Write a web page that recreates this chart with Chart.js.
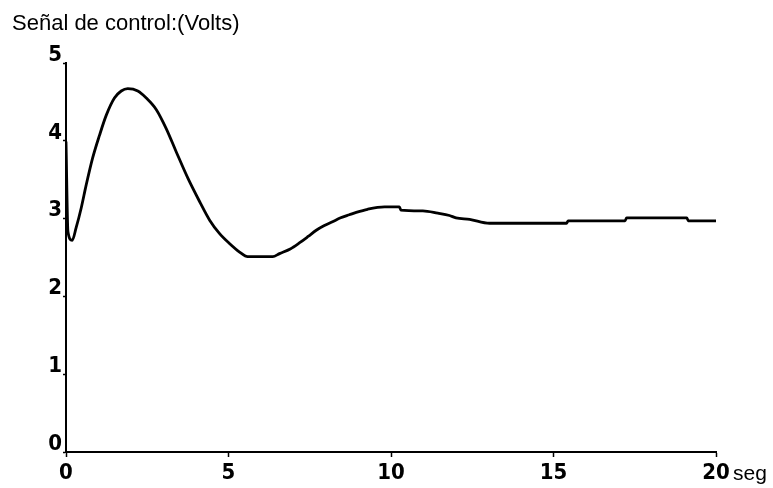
<!DOCTYPE html>
<html>
<head>
<meta charset="utf-8">
<title>Señal de control</title>
<script src="https://cdn.jsdelivr.net/npm/chart.js@4"></script>
<style>
  html, body { margin: 0; padding: 0; background: #fff; }
  #wrap { width: 773px; height: 488px; position: relative; }
</style>
</head>
<body>
<div id="wrap"><canvas id="senalChart" width="773" height="488"></canvas></div>
<script>
// respuesta de la señal de control (segundos, volts)
const tiempo = [0, 0.06, 0.19, 0.31, 0.47, 0.62, 0.82, 1.03, 1.24, 1.49, 1.7, 1.9, 2.21, 2.47,
    2.78, 3.08, 3.39, 3.75, 4.11, 4.42, 4.72, 5.03, 5.34, 5.59, 6.36, 6.57, 6.9, 7.19, 7.45,
    7.7, 7.95, 8.2, 8.45, 8.72, 8.93, 9.28, 9.8, 10.26, 10.3, 10.98, 11.44, 11.8, 12.0, 12.42,
    13.03, 15.4, 15.45, 17.2, 17.25, 19.1, 19.15, 20];
const voltaje = [3.99, 2.83, 2.72, 2.88, 3.14, 3.43, 3.78, 4.07, 4.33, 4.55, 4.64, 4.67, 4.64, 4.55,
    4.40, 4.16, 3.86, 3.52, 3.22, 2.98, 2.81, 2.68, 2.57, 2.51, 2.51, 2.55, 2.61, 2.69, 2.77,
    2.85, 2.91, 2.96, 3.01, 3.05, 3.08, 3.12, 3.15, 3.15, 3.11, 3.10, 3.07, 3.04, 3.01, 2.99,
    2.94, 2.94, 2.97, 2.97, 3.01, 3.01, 2.97, 2.97];
const xTicks = [0, 5, 10, 15, 20];
const yTicks = [0, 1, 2, 3, 4, 5];

const tituloY = 'Señal de control:(Volts)';
const unidadX = 'seg';

document.addEventListener("DOMContentLoaded", () => {
    const ctx = document.getElementById('senalChart').getContext('2d');
    const tickFont = { family: "'Liberation Sans Narrow', 'DejaVu Sans Condensed', sans-serif", size: 22, weight: 'bold' };

    // texto del eje y y unidad del eje x
    const etiquetas = {
        id: 'etiquetas',
        afterDraw(chart) {
            const c = chart.ctx;
            const area = chart.chartArea;
            c.save();
            c.fillStyle = '#000';
            c.font = "22px 'Liberation Sans', Arial, sans-serif";
            c.textBaseline = 'alphabetic';
            c.textAlign = 'left';
            c.fillText(tituloY, 12, 30);
            c.font = "21px 'Liberation Sans', Arial, sans-serif";
            c.fillText(unidadX, area.right + 17, area.bottom + 28);
            c.restore();
        }
    };

    new Chart(ctx, {
        type: 'line',
        data: {
            datasets: [{
                label: 'Señal de control',
                data: tiempo.map((t, i) => ({ x: t, y: voltaje[i] })),
                borderColor: '#000',
                borderWidth: 2.8,
                pointRadius: 0,
                cubicInterpolationMode: 'monotone',
                fill: false
            }]
        },
        options: {
            responsive: false,
            animation: false,
            layout: { padding: { top: 63, right: 57, left: 0, bottom: 0 } },
            plugins: {
                legend: { display: false },
                tooltip: { enabled: false }
            },
            scales: {
                x: {
                    type: 'linear',
                    min: 0,
                    max: 20,
                    afterBuildTicks: (scale) => { scale.ticks = xTicks.map(v => ({ value: v })); },
                    afterFit: (scale) => { scale.height = 36; },
                    grid: { drawOnChartArea: false, drawTicks: true, tickLength: 5, tickColor: '#000', tickWidth: 1.5 },
                    border: { display: true, color: '#000', width: 2 },
                    ticks: { color: '#000', font: tickFont, padding: 3, maxRotation: 0 }
                },
                y: {
                    min: 0,
                    max: 5,
                    afterBuildTicks: (scale) => { scale.ticks = yTicks.map(v => ({ value: v })); },
                    afterFit: (scale) => { scale.width = 66; },
                    grid: { drawOnChartArea: false, drawTicks: true, tickLength: 3, tickColor: '#000', tickWidth: 1.5 },
                    border: { display: true, color: '#000', width: 2 },
                    ticks: { color: '#000', font: tickFont, padding: 1, labelOffset: -8 }
                }
            }
        },
        plugins: [etiquetas]
    });
});
</script>
</body>
</html>
